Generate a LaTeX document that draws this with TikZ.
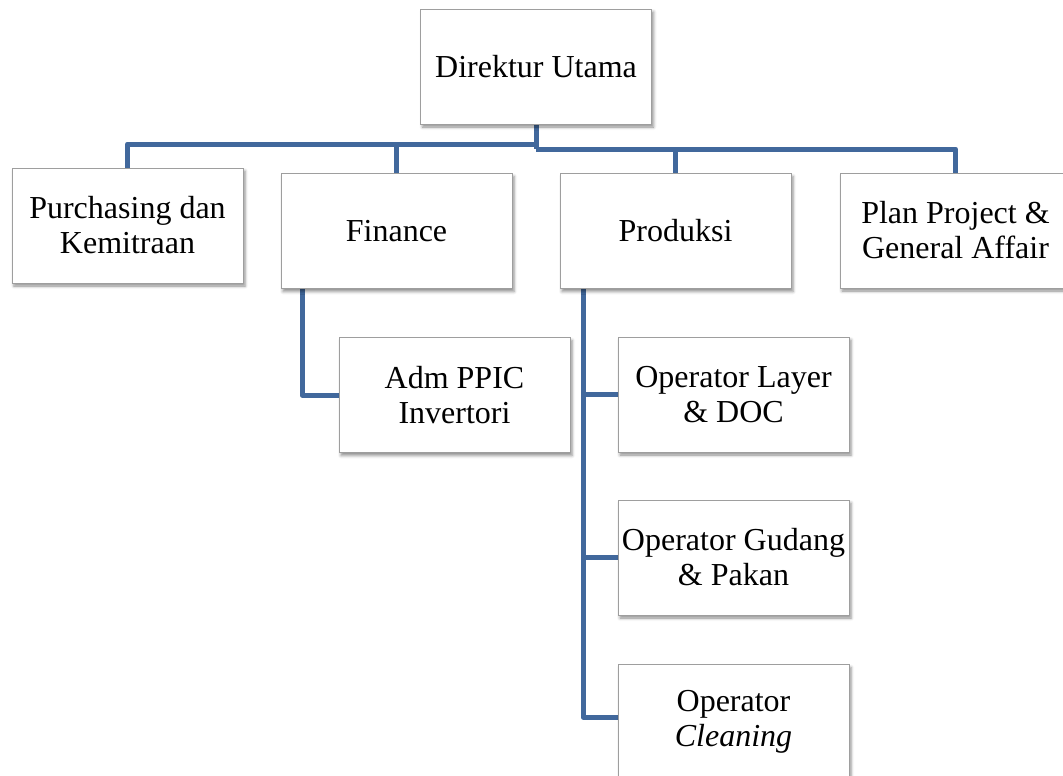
\documentclass[tikz,border=0pt]{standalone}
\usepackage{fontspec}
\setmainfont{Liberation Serif}
\usetikzlibrary{shadows.blur,backgrounds}
\definecolor{linkblue}{RGB}{65,104,156}
\begin{document}
\begin{tikzpicture}[x=1pt,y=-1pt,
  orgbox/.style={draw=black!38, fill=white, line width=0.8pt,
    minimum width=231pt, minimum height=115pt, align=center, inner sep=2pt,
    font=\fontsize{32}{35}\selectfont,
    blur shadow={shadow xshift=2pt,shadow yshift=-3pt,
      shadow blur radius=3pt,shadow opacity=45}},
  link/.style={draw=linkblue, line width=5pt, line join=round}]
\useasboundingbox (0,0) rectangle (1063,776);
\clip (0,0) rectangle (1063,776);

% boxes
\node[orgbox] (top)    at (536,66.5)   {Direktur Utama};
\node[orgbox] (purch)  at (127.5,225.5) {Purchasing dan\\Kemitraan};
\node[orgbox] (fin)    at (396.5,231)  {Finance};
\node[orgbox] (prod)   at (675.5,231)  {Produksi};
\node[orgbox] (plan)   at (955.5,230.5) {Plan Project \&\\General Affair};
\node[orgbox] (adm)    at (454.5,395)  {Adm PPIC\\Invertori};
\node[orgbox] (layer)  at (733.5,394.5) {Operator Layer\\\& DOC};
\node[orgbox] (gudang) at (733.5,557.5) {Operator Gudang\\\& Pakan};
\node[orgbox] (clean)  at (733.5,722)  {Operator\\\textit{Cleaning}};

% connectors
\coordinate (busL) at (536,144);
\coordinate (busR) at (536,149);
\begin{pgfonlayer}{background}
  \draw[link] (top.south) -- (busR);
  \draw[link] (purch.north) -- (purch.north |- busL) -- (busL);
  \draw[link] (fin.north) -- (fin.north |- busL);
  \draw[link] (busR) -| (plan.north);
  \draw[link] (prod.north) -- (prod.north |- busR);
  \draw[link] ([xshift=-94.5pt]fin.south) |- (adm.west);
  \coordinate (pl) at ([xshift=-92.5pt]prod.south);
  \draw[link] (pl) |- ([yshift=5pt]clean.west);
  \draw[link] (pl |- layer.west) -- (layer.west);
  \draw[link] (pl |- gudang.west) -- (gudang.west);
\end{pgfonlayer}
\end{tikzpicture}
\end{document}
